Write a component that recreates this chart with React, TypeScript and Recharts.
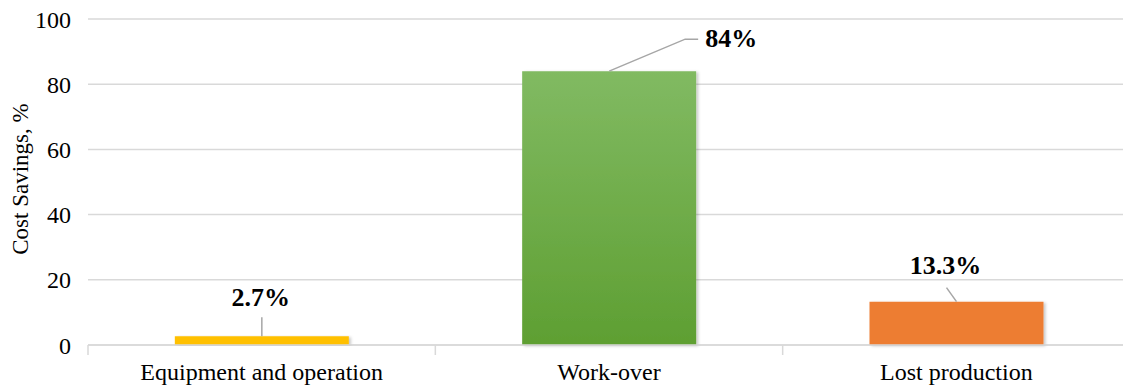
import { BarChart, Bar, XAxis, YAxis, CartesianGrid, Cell, LabelList } from 'recharts';

const categories = ['Equipment and operation', 'Work-over', 'Lost production'];
const savings = [2.7, 84, 13.3];
const valueLabels = ['2.7%', '84%', '13.3%'];
const yTicks = [0, 20, 40, 60, 80, 100];

const data = categories.map((name, i) => ({ name, value: savings[i], label: valueLabels[i] }));

const CHART_W = 1130;
const CHART_H = 389;
const Y_AXIS_W = 88;
const MARGIN = { top: 19, right: 0, bottom: 0, left: 0 };
const BAND = (CHART_W - Y_AXIS_W - MARGIN.left - MARGIN.right) / categories.length;

const FONT = 'Liberation Serif, serif';
const fills = ['#ffc000', 'url(#greenFill)', '#ed7d31'];

// leader line and text placement, relative to the top centre of each bar
const leaders = [
  { pts: [[0, -19]], tx: -1, ty: -30, anchor: 'middle' },
  { pts: [[76, -32], [89, -32]], tx: 96, ty: -24, anchor: 'start' },
  { pts: [[-10, -14]], tx: -11, ty: -28, anchor: 'middle' },
];

const ValueLabel = (props: any) => {
  const { x, y, width, index, value } = props;
  const l = leaders[index];
  const cx = x + width / 2;
  const pts = [[cx, y], ...l.pts.map(([dx, dy]) => [cx + dx, y + dy])];
  return (
    <g>
      <polyline points={pts.map((p) => p.join(',')).join(' ')} fill="none" stroke="#a6a6a6" strokeWidth={1.5} />
      <text x={cx + l.tx} y={y + l.ty} textAnchor={l.anchor} style={{ fontFamily: FONT, fontSize: 26, fontWeight: 'bold' }} fill="#000">
        {value}
      </text>
    </g>
  );
};

const CategoryTick = (props: any) => {
  const { x, y, payload, index } = props;
  const left = x - BAND / 2;
  return (
    <g>
      <line x1={left} y1={y} x2={left} y2={y + 10} stroke="#d9d9d9" strokeWidth={1.5} />
      {index === categories.length - 1 && (
        <line x1={left + BAND} y1={y} x2={left + BAND} y2={y + 10} stroke="#d9d9d9" strokeWidth={1.5} />
      )}
      <text x={x} y={y + 35} textAnchor="middle" style={{ fontFamily: FONT, fontSize: 24 }} fill="#000">
        {payload.value}
      </text>
    </g>
  );
};

const AxisTitle = (props: any) => {
  const { viewBox } = props;
  const cy = viewBox.y + viewBox.height / 2 - 3;
  return (
    <text transform={`translate(28, ${cy}) rotate(-90)`} textAnchor="middle" style={{ fontFamily: FONT, fontSize: 23 }} fill="#000">
      Cost Savings, %
    </text>
  );
};

export default function App() {
  return (
    <div style={{ position: 'absolute', left: 0, top: 0, width: 1123, height: CHART_H, overflow: 'hidden', background: '#fff', fontFamily: FONT }}>
      <BarChart width={CHART_W} height={CHART_H} data={data} margin={MARGIN} barCategoryGap="25%">
        <defs>
          <linearGradient id="greenFill" x1="0" y1="0" x2="0" y2="1">
            <stop offset="0%" stopColor="#81ba62" />
            <stop offset="100%" stopColor="#5e9f32" />
          </linearGradient>
          <filter id="barShadow" x="-5%" y="-5%" width="115%" height="115%">
            <feDropShadow dx="2" dy="1" stdDeviation="1.5" floodColor="#000" floodOpacity="0.22" />
          </filter>
        </defs>
        <CartesianGrid vertical={false} stroke="#d9d9d9" strokeWidth={1.5} />
        <XAxis
          dataKey="name"
          axisLine={{ stroke: '#d9d9d9', strokeWidth: 1.5 }}
          tickLine={false}
          tickSize={0}
          tickMargin={0}
          height={CHART_H - 345 - MARGIN.bottom}
          tick={<CategoryTick />}
          interval={0}
        />
        <YAxis
          width={Y_AXIS_W}
          domain={[0, 100]}
          ticks={yTicks}
          axisLine={false}
          tickLine={false}
          tickSize={0}
          tickMargin={17}
          tick={{ fill: '#000', fontSize: 24, fontFamily: FONT }}
          label={<AxisTitle />}
        />
        <Bar dataKey="value" isAnimationActive={false} filter="url(#barShadow)">
          {data.map((d, i) => (
            <Cell key={d.name} fill={fills[i]} />
          ))}
          <LabelList dataKey="label" content={<ValueLabel />} />
        </Bar>
      </BarChart>
    </div>
  );
}
